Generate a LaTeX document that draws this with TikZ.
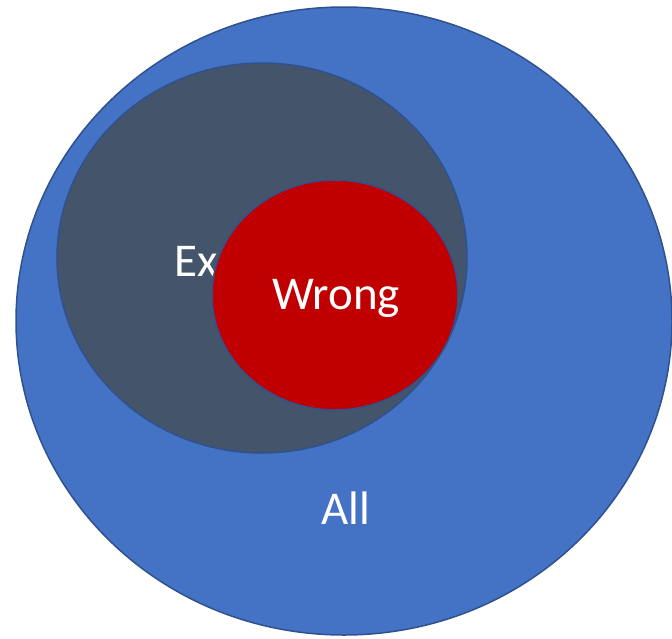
\documentclass[tikz,border=0pt]{standalone}
\usepackage{fontspec}
\setmainfont{Carlito}
\definecolor{allblue}{HTML}{4472C4}
\definecolor{exgray}{HTML}{44546A}
\definecolor{wrongred}{HTML}{C00000}
\definecolor{edgeblue}{HTML}{2F528F}
\tikzset{
  setshape/.style={draw=edgeblue, line width=1.5pt},
  lbl/.style={text=white, font=\fontsize{47}{56}\selectfont, inner sep=0pt}
}
\begin{document}
\begin{tikzpicture}[x=1pt,y=-1pt]
\useasboundingbox (0,0) rectangle (672,638);
\begin{scope}
\clip (0,0) rectangle (672,638);
\path[setshape, fill=allblue] (344,321) ellipse [x radius=328, y radius=314];
\end{scope}
\path[setshape, fill=exgray] (262,258) ellipse [x radius=205, y radius=195];
\node[lbl, anchor=base west] (ex) at (174,276) {Ex};
\path[setshape, fill=wrongred] (335,295) ellipse [x radius=123, y radius=115];
\node[lbl] (wrong) at (336,298) {Wrong};
\node[lbl] (all) at (346,508) {All};
\end{tikzpicture}
\end{document}
